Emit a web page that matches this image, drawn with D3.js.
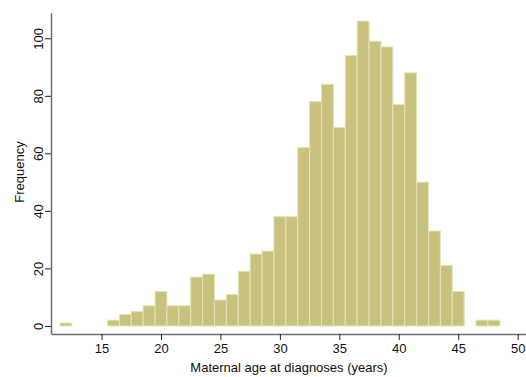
<!DOCTYPE html>
<html>
<head>
<meta charset="utf-8">
<script src="https://cdn.jsdelivr.net/npm/d3@7"></script>
<style>
  body { margin: 0; background: #fff; }
  svg text { font-family: "Liberation Sans", Arial, sans-serif; fill: #111; }
</style>
</head>
<body>
<div id="chart"></div>
<script>
// histogram bins, one year wide, centred on the age
var ages = [12, 16, 17, 18, 19, 20, 21, 22, 23, 24, 25, 26, 27, 28, 29, 30,
            31, 32, 33, 34, 35, 36, 37, 38, 39, 40, 41, 42, 43, 44, 45, 47, 48];
var counts = [1, 2, 4, 5, 7, 12, 7, 7, 17, 18, 9, 11, 19, 25, 26, 38,
              38, 62, 78, 84, 69, 94, 106, 99, 97, 77, 88, 50, 33, 21, 12, 2, 2];
var xTicks = [15, 20, 25, 30, 35, 40, 45, 50];
var yTicks = [0, 20, 40, 60, 80, 100];

var width = 526, height = 377;
var svg = d3.select("#chart").append("svg")
    .attr("width", width).attr("height", height);

var x = d3.scaleLinear().domain([10.75, 50.7]).range([51, 526]);
var y = d3.scaleLinear().domain([-2.8, 108.9]).range([334, 12.7]);

var bins = ages.map(function(a, i) { return {x0: a - 0.5, x1: a + 0.5, n: counts[i]}; });

svg.append("g").selectAll("rect")
    .data(bins).enter().append("rect")
    .attr("x", function(d) { return x(d.x0); })
    .attr("width", function(d) { return x(d.x1) - x(d.x0); })
    .attr("y", function(d) { return y(d.n); })
    .attr("height", function(d) { return y(0) - y(d.n); })
    .attr("fill", "#c9c27f")
    .attr("stroke", "#e6e2b4")
    .attr("stroke-width", 1);

// x axis
var xAxis = svg.append("g")
    .attr("transform", "translate(0,334)")
    .call(d3.axisBottom(x).tickValues(xTicks).tickSize(6).tickPadding(4).tickSizeOuter(0));
xAxis.select(".domain").attr("stroke", "#6e6e6e").attr("stroke-width", 1.5);
xAxis.selectAll(".tick line").attr("stroke", "#222");
xAxis.selectAll(".tick text").attr("font-size", 13).attr("fill", "#111")
    .attr("font-family", "Liberation Sans, Arial, sans-serif");

// y axis, labels rotated like Stata
var yAxis = svg.append("g")
    .attr("transform", "translate(51,0)")
    .call(d3.axisLeft(y).tickValues(yTicks).tickSize(6).tickSizeOuter(0));
yAxis.select(".domain").attr("stroke", "#6e6e6e").attr("stroke-width", 1.5);
yAxis.selectAll(".tick line").attr("stroke", "#222");
yAxis.selectAll(".tick text")
    .attr("font-size", 13).attr("fill", "#111")
    .attr("font-family", "Liberation Sans, Arial, sans-serif")
    .attr("x", null).attr("dy", null)
    .attr("text-anchor", "middle")
    .attr("transform", "translate(-8,0) rotate(-90)");

svg.append("text")
    .attr("x", 289).attr("y", 372)
    .attr("text-anchor", "middle").attr("font-size", 13)
    .text("Maternal age at diagnoses (years)");

svg.append("text")
    .attr("transform", "translate(24,172) rotate(-90)")
    .attr("text-anchor", "middle").attr("font-size", 13)
    .text("Frequency");
</script>
</body>
</html>
